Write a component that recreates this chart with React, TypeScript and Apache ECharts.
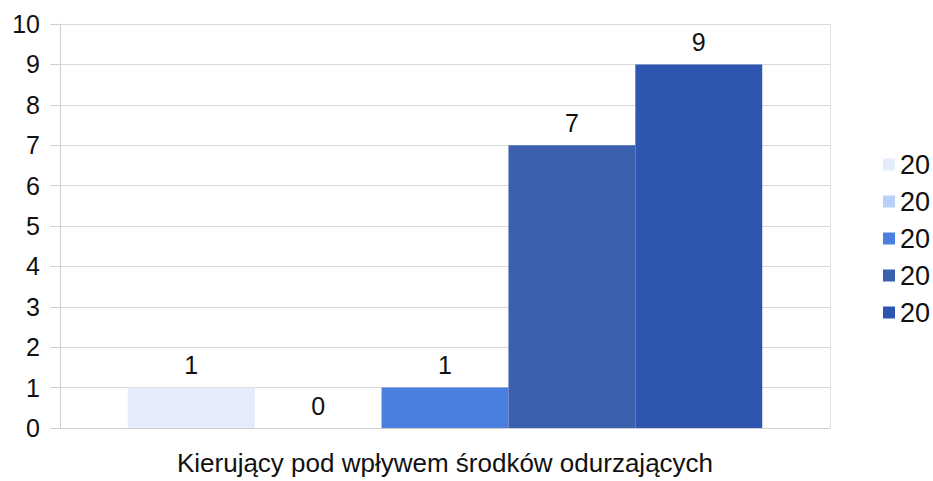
import React, { useEffect, useRef } from "react";
import * as echarts from "echarts";

const categories = ["Kierujący pod wpływem środków odurzających"];
const seriesIds = ["s1", "s2", "s3", "s4", "s5"];
const legendLabels = ["20", "20", "20", "20", "20"];
const seriesValues = [1, 0, 1, 7, 9];
const seriesColors = ["#e4ebfb", "#b8d2f7", "#4a7fdf", "#3a60ae", "#2e55b0"];
const yTicks = [0, 1, 2, 3, 4, 5, 6, 7, 8, 9, 10];

export default function App() {
  const ref = useRef<HTMLDivElement>(null);
  useEffect(() => {
    document.body.style.margin = "0";
    if (!ref.current) return;
    const chart = echarts.init(ref.current, null, { renderer: "svg" });
    const font = "Liberation Sans, Arial, sans-serif";
    chart.setOption({
      animation: false,
      backgroundColor: "#ffffff",
      grid: { left: 60, width: 770, top: 24, height: 409, containLabel: false },
      legend: {
        orient: "vertical",
        left: 878,
        top: 146,
        itemWidth: 12,
        itemHeight: 12,
        itemGap: 10,
        icon: "rect",
        textStyle: { fontSize: 27, color: "#111", fontFamily: font },
        formatter: (name: string) => legendLabels[seriesIds.indexOf(name)],
        data: seriesIds,
      },
      xAxis: {
        type: "category",
        data: categories,
        name: categories[0],
        nameLocation: "middle",
        nameGap: 22,
        nameTextStyle: { fontSize: 26, color: "#111", fontFamily: font, verticalAlign: "top" },
        axisLabel: { show: false },
        axisTick: { show: false },
        axisLine: { show: true, lineStyle: { color: "#d0d0d0" } },
        splitLine: { show: true, lineStyle: { color: "#e2e2e2" } },
      },
      yAxis: {
        type: "value",
        min: yTicks[0],
        max: yTicks[yTicks.length - 1],
        interval: 1,
        axisLine: { show: true, lineStyle: { color: "#d0d0d0" } },
        axisTick: { show: true, length: 10, lineStyle: { color: "#d0d0d0" } },
        axisLabel: { fontSize: 25, color: "#111", fontFamily: font, margin: 20 },
        splitLine: { show: true, lineStyle: { color: "#d9d9d9" } },
      },
      series: seriesIds.map((id, i) => ({
        name: id,
        type: "bar",
        data: [seriesValues[i]],
        barGap: "0%",
        barCategoryGap: "17.6%",
        itemStyle: { color: seriesColors[i] },
        label: {
          show: true,
          position: "top",
          distance: 10,
          fontSize: 25,
          color: "#111",
          fontFamily: font,
        },
      })),
    });
    return () => chart.dispose();
  }, []);
  return <div ref={ref} style={{ width: 933, height: 481 }} />;
}
